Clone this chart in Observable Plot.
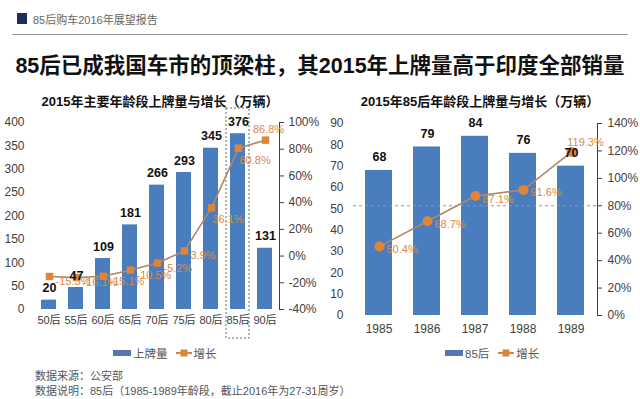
<!DOCTYPE html>
<html><head><meta charset="utf-8">
<script src="https://cdn.jsdelivr.net/npm/d3@7"></script>
<script src="https://cdn.jsdelivr.net/npm/@observablehq/plot@0.6"></script>
<style>
body{margin:0;background:#fff;font-family:"Liberation Sans","Noto Sans CJK SC",sans-serif;}
#page{position:relative;width:640px;height:399px;overflow:hidden;background:#fff;}
.abs{position:absolute;white-space:nowrap;}
.lg{display:flex;align-items:center;font-size:11.5px;color:#555;}
.lg svg{margin-right:2px;}
</style></head><body><div id="page">
<div class="abs" style="left:17px;top:13px;width:10px;height:11px;background:#1f2d5a"></div>
<div class="abs" style="left:33px;top:11px;font-size:11px;color:#666">85后购车2016年展望报告</div>
<div class="abs" style="left:12px;top:34px;width:616px;height:1px;background:#9a9a9a"></div>
<div class="abs" style="left:0;top:48px;width:640px;text-align:center;font-size:21.5px;font-weight:bold;color:#111;font-family:'Liberation Sans','Noto Sans CJK SC',sans-serif">85后已成我国车市的顶梁柱，其2015年上牌量高于印度全部销量</div>
<div class="abs" style="left:0;top:91px;width:320px;text-align:center;font-size:13px;font-weight:bold;color:#111">2015年主要年龄段上牌量与增长（万辆）</div>
<div class="abs" style="left:320px;top:91px;width:320px;text-align:center;font-size:13px;font-weight:bold;color:#111">2015年85后年龄段上牌量与增长（万辆）</div>
<div id="left" class="abs" style="left:0;top:95px;width:320px;height:240px"></div>
<div id="right" class="abs" style="left:320px;top:95px;width:320px;height:240px"></div>
<div class="abs lg" style="left:113px;top:345px">
  <svg width="18" height="8"><rect x="0" y="1" width="18" height="6" fill="#5577ad"/></svg><span>上牌量</span>
  <svg width="16" height="8" style="margin-left:8px"><line x1="0" y1="4" x2="16" y2="4" stroke="#c8864a" stroke-width="2"/><rect x="4.5" y="0.5" width="7" height="7" fill="#d98538"/></svg><span>增长</span>
</div>
<div class="abs lg" style="left:445px;top:345px">
  <svg width="18" height="8"><rect x="0" y="1" width="18" height="6" fill="#5577ad"/></svg><span>85后</span>
  <svg width="16" height="8" style="margin-left:9px"><line x1="0" y1="4" x2="16" y2="4" stroke="#c8864a" stroke-width="2"/><rect x="4.5" y="0.5" width="7" height="7" fill="#d98538"/></svg><span>增长</span>
</div>
<div class="abs" style="left:35px;top:367px;font-size:11px;color:#555">数据来源：公安部</div>
<div class="abs" style="left:35px;top:382px;font-size:11px;color:#555">数据说明：85后（1985-1989年龄段，截止2016年为27-31周岁）</div>
</div>
<script>
// ---- data ----
const ageGroups = ["50后","55后","60后","65后","70后","75后","80后","85后","90后"];
const platesByAge = [20, 47, 109, 181, 266, 293, 345, 376, 131];
const growthByAge = [-15.3, -16.1, -15.1, -10.5, -5.2, 3.9, 36.1, 80.8, 86.8];
const highlightGroup = ["85后"];
const birthYears = ["1985","1986","1987","1988","1989"];
const plates85 = [68, 79, 84, 76, 70];
const growth85 = [50.4, 68.7, 87.1, 91.6, 119.3];
const leftCountTicks = [0,50,100,150,200,250,300,350,400];
const leftPctTicks = [-40,-20,0,20,40,60,80,100];
const rightCountTicks = [0,10,20,30,40,50,60,70,80,90];
const rightPctTicks = [0,20,40,60,80,100,120,140];
const rightRefLine = [80];

// ---- style ----
const BLUE = "#4a7dbd", LINE = "#b08866", DOT = "#dd8538", LABEL = "#d98a45";
const FONT = '"Liberation Sans","Noto Sans CJK SC",sans-serif';
const W = 320, H = 240;

const leftRows = ageGroups.map((g, i) => ({g, v: platesByAge[i], p: growthByAge[i], i}));
const rightRows = birthYears.map((g, i) => ({g, v: plates85[i], p: growth85[i], i}));

function place(el, svg, xFont) {
  svg.style.position = "absolute";
  svg.style.left = "0px";
  svg.style.top = "0px";
  svg.style.background = "transparent";
  svg.style.overflow = "visible";
  if (xFont) svg.querySelectorAll('[aria-label^="x-axis"] text').forEach(t => { t.setAttribute("font-size", xFont); t.style.fontSize = xFont + "px"; });
  el.appendChild(svg);
}
const baseStyle = {background: "transparent", fontFamily: FONT, fontSize: "12px", color: "#404040", overflow: "visible"};

// ===== LEFT CHART =====
const L = {width: W, height: H, marginTop: 27, marginBottom: 26, marginLeft: 34, marginRight: 41, style: baseStyle};
const Lx = {domain: ageGroups, paddingInner: 0.45, paddingOuter: 0.225};
const leftEl = document.getElementById("left");

place(leftEl, Plot.plot({...L,
  x: {...Lx, label: null, tickSize: 0, tickPadding: 7},
  y: {domain: [0, 400], ticks: leftCountTicks, label: null, tickSize: 0, tickPadding: 10},
  marks: [
    Plot.barY(leftRows, {x: "g", y: "v", fill: BLUE}),
    Plot.barY(highlightGroup, {x: d => d, y1: 0, y2: 430, insetLeft: -4, insetRight: -4, insetBottom: -29,
      fill: "none", stroke: "#666", strokeDasharray: "2,2", strokeWidth: 1})
  ]
}), 11);
place(leftEl, Plot.plot({...L,
  x: {...Lx, axis: null},
  y: {domain: [-40, 100], ticks: leftPctTicks, tickFormat: d => d + "%", axis: "right", line: true,
      tickSize: 4, tickPadding: 5, label: null},
  marks: [
    Plot.line(leftRows, {x: "g", y: "p", stroke: LINE, strokeWidth: 1.6}),
    Plot.dot(leftRows, {x: "g", y: "p", fill: DOT, r: 4.2, symbol: "square"}),
    Plot.text(leftRows.filter(d => d.i < 6), {x: "g", y: "p", text: d => d.p.toFixed(1) + "%", fill: LABEL, fontSize: 11, textAnchor: "start", dx: 6, dy: 5}),
    Plot.text(leftRows.filter(d => d.i >= 6 && d.i < 8), {x: "g", y: "p", text: d => d.p.toFixed(1) + "%", fill: LABEL, fontSize: 11, textAnchor: "start", dx: 1, dy: 12}),
    Plot.text(leftRows.filter(d => d.i === 8), {x: "g", y: "p", text: d => d.p.toFixed(1) + "%", fill: LABEL, fontSize: 11, dy: -11, dx: 3})
  ]
}));
place(leftEl, Plot.plot({...L,
  x: {...Lx, axis: null},
  y: {domain: [0, 400], axis: null},
  marks: [
    Plot.text(leftRows, {x: "g", y: "v", text: "v", dy: -12, fontWeight: "bold", fontSize: 12.5, fill: "#111"})
  ]
}));

// ===== RIGHT CHART =====
const R = {width: W, height: H, marginTop: 28, marginBottom: 20, marginLeft: 33, marginRight: 43, style: baseStyle};
const Rx = {domain: birthYears, paddingInner: 0.43, paddingOuter: 0.215};
const rightEl = document.getElementById("right");

place(rightEl, Plot.plot({...R,
  x: {...Rx, label: null, tickSize: 0, tickPadding: 9},
  y: {domain: [0, 90], ticks: rightCountTicks, label: null, tickSize: 0, tickPadding: 10},
  marks: [
    Plot.barY(rightRows, {x: "g", y: "v", fill: BLUE})
  ]
}));
place(rightEl, Plot.plot({...R,
  x: {...Rx, axis: null},
  y: {domain: [0, 140], ticks: rightPctTicks, tickFormat: d => d + "%", axis: "right", line: true,
      tickSize: 4, tickPadding: 6, label: null},
  marks: [
    Plot.ruleY(rightRefLine, {stroke: "#8a96a8", strokeDasharray: "3,3", strokeWidth: 1}),
    Plot.line(rightRows, {x: "g", y: "p", stroke: LINE, strokeWidth: 1.6}),
    Plot.dot(rightRows, {x: "g", y: "p", fill: DOT, r: 5}),
    Plot.text(rightRows.filter(d => d.i < 4), {x: "g", y: "p", text: d => d.p.toFixed(1) + "%", fill: LABEL, fontSize: 11, textAnchor: "start", dx: 7, dy: 3}),
    Plot.text(rightRows.filter(d => d.i === 4), {x: "g", y: "p", text: d => d.p.toFixed(1) + "%", fill: LABEL, fontSize: 11, dx: 14, dy: -9})
  ]
}));
place(rightEl, Plot.plot({...R,
  x: {...Rx, axis: null},
  y: {domain: [0, 90], axis: null},
  marks: [
    Plot.text(rightRows, {x: "g", y: "v", text: "v", dy: -13, fontWeight: "bold", fontSize: 12.5, fill: "#111"})
  ]
}));
</script>
</body></html>
